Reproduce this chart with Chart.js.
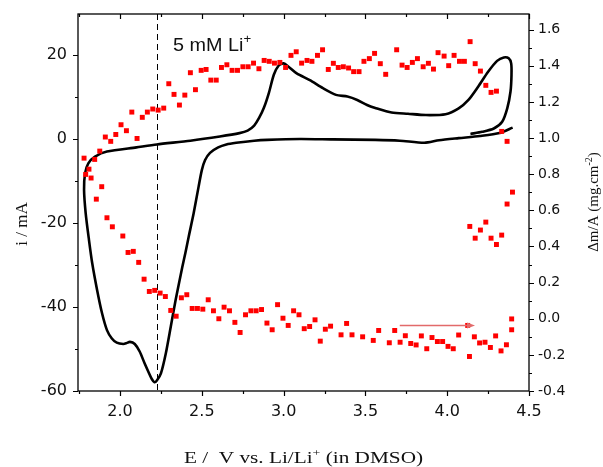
<!DOCTYPE html>
<html>
<head>
<meta charset="utf-8">
<script src="https://cdn.jsdelivr.net/npm/chart.js@4"></script>
<style>
  html, body { margin: 0; padding: 0; background: #fff; }
  #wrap { width: 603px; height: 467px; }
</style>
</head>
<body>
<div id="wrap"><canvas id="cvChart" width="603" height="467"></canvas></div>
<script>
// ── DATA ──
// CV loop, in scan order: cathodic sweep from 4.4 V, back anodic, ending near 4.14 V
const cvPotential = [
  4.40, 4.32, 4.20, 4.07, 3.95, 3.86, 3.71, 3.56, 3.30, 3.10,
  2.90, 2.82, 2.71, 2.65, 2.60, 2.55, 2.52, 2.50, 2.48, 2.45,
  2.42, 2.40, 2.38, 2.34, 2.31, 2.28, 2.25, 2.225, 2.21, 2.195,
  2.18, 2.15, 2.12, 2.09, 2.06, 2.04, 2.02, 1.98, 1.95, 1.92,
  1.89, 1.86, 1.83, 1.81, 1.79, 1.78, 1.786, 1.806, 1.847, 1.92,
  2.10, 2.225, 2.43, 2.61, 2.73, 2.78, 2.82, 2.85, 2.88, 2.91,
  2.94, 2.97, 3.00, 3.03, 3.08, 3.16, 3.24, 3.32, 3.39,
  3.45, 3.51, 3.56, 3.66, 3.76, 3.87, 3.99, 4.07, 4.13, 4.19,
  4.25, 4.305, 4.346, 4.376, 4.391, 4.393, 4.387, 4.367, 4.336, 4.285,
  4.214, 4.142
];
const cvCurrent = [
  2.7, 1.4, 0.7, 0.2, -0.3, -0.9, -0.4, -0.2, -0.1, 0.0,
  -0.2, -0.4, -0.9, -1.3, -2.0, -3.3, -5.0, -7.4, -11.4, -17.7,
  -23.2, -27.0, -30.6, -38.3, -44.7, -51.0, -55.8, -57.5, -57.9, -57.2,
  -56.0, -53.4, -50.6, -48.8, -48.3, -48.6, -48.8, -48.5, -47.5, -45.5,
  -41.5, -36.0, -29.6, -24.0, -17.7, -12.1, -8.2, -5.8, -4.2, -3.0,
  -2.0, -1.3, -0.4, 0.6, 1.4, 2.0, 3.2, 5.0, 7.5, 11.0,
  15.3, 17.5, 18.0, 17.2, 15.6, 14.0, 12.1, 10.5, 10.1,
  9.3, 8.1, 7.4, 6.3, 6.0, 5.7, 5.9, 7.3, 9.3, 12.5,
  16.0, 18.6, 19.4, 19.2, 18.0, 15.2, 11.3, 7.3, 4.1, 2.5,
  1.7, 1.2
];

// EQCM mass change per area (mg.cm-2) against potential
const massPotential = [
  1.780, 1.845, 1.876, 1.910, 1.943, 1.974, 2.006, 2.039, 2.072, 2.104,
  2.136, 2.167, 2.200, 2.233, 2.267, 2.298, 2.330, 2.363, 2.396, 2.430,
  2.461, 2.496, 2.526, 2.555, 2.588, 2.620, 2.653, 2.685, 2.718, 2.751,
  2.783, 2.816, 2.849, 2.881, 2.912, 2.944, 2.977, 3.012, 3.045, 3.077,
  3.110, 3.143, 3.173, 3.207, 3.238, 3.273, 3.304, 3.334, 3.365, 3.397,
  3.428, 3.461, 3.491, 3.524, 3.556, 3.591, 3.624, 3.691, 3.724, 3.755,
  3.787, 3.818, 3.853, 3.885, 3.916, 3.944, 3.981, 4.009, 4.042, 4.075,
  4.105, 4.140, 4.171, 4.203, 4.236, 4.268, 4.301, 4.333, 4.366, 4.399,
  4.366,
  4.138, 4.171, 4.203, 4.236, 4.268, 4.301, 4.333,
  1.790, 1.810, 1.823, 1.855, 1.888, 1.920, 1.953, 2.017, 2.049, 2.081,
  2.114, 2.147, 2.179, 2.212, 2.245, 2.277, 2.310, 2.343, 2.375, 2.408,
  2.441, 2.473, 2.506, 2.539, 2.571, 2.604, 2.636, 2.669, 2.702, 2.734,
  2.767, 2.800, 2.832, 2.865, 2.898, 2.930, 2.963, 2.996, 3.028, 3.061,
  3.094, 3.126, 3.159, 3.192, 3.224, 3.255, 3.287, 3.351, 3.385, 3.418,
  3.483, 3.548, 3.581, 3.646, 3.679, 3.712, 3.744, 3.777, 3.810, 3.842,
  3.875, 3.907, 3.940, 3.972, 4.005, 4.037, 4.070, 4.125, 4.136, 4.166,
  4.198, 4.231, 4.264, 4.296, 4.329, 4.362, 4.394, 4.394
];
const massChange = [
  0.889, 0.882, 0.928, 1.006, 0.982, 1.020, 1.074, 1.041, 1.144, 0.998,
  1.115, 1.144, 1.161, 1.155, 1.166, 1.301, 1.242, 1.183, 1.238, 1.362,
  1.268, 1.375, 1.380, 1.321, 1.321, 1.391, 1.406, 1.375, 1.375, 1.395,
  1.395, 1.415, 1.384, 1.430, 1.425, 1.415, 1.419, 1.391, 1.458, 1.478,
  1.415, 1.430, 1.425, 1.458, 1.489, 1.380, 1.414, 1.391, 1.395, 1.388,
  1.368, 1.368, 1.425, 1.440, 1.469, 1.412, 1.353, 1.489, 1.404, 1.391,
  1.419, 1.440, 1.395, 1.414, 1.382, 1.473, 1.454, 1.401, 1.458, 1.425,
  1.425, 1.534, 1.412, 1.371, 1.292, 1.253, 1.260, 1.037, 0.982, 0.701,
  0.635,
  0.511, 0.446, 0.491, 0.535, 0.446, 0.411, 0.463,
  0.799, 0.828, 0.779, 0.662, 0.731, 0.559, 0.509, 0.458, 0.367, 0.373,
  0.312, 0.219, 0.151, 0.157, 0.142, 0.123, 0.046, 0.014, 0.116, 0.133,
  0.057, 0.057, 0.053, 0.105, 0.044, 0.000, 0.064, 0.044, -0.020, -0.076,
  0.022, 0.044, 0.044, 0.051, -0.024, -0.061, 0.078, 0.003, -0.037, 0.044,
  0.022, -0.055, -0.043, -0.006, -0.124, -0.058, -0.041, -0.089, -0.026, -0.089,
  -0.100, -0.120, -0.065, -0.133, -0.065, -0.130, -0.094, -0.137, -0.145, -0.095,
  -0.166, -0.104, -0.126, -0.126, -0.153, -0.166, -0.090, -0.037, -0.209, -0.100,
  -0.134, -0.130, -0.159, -0.095, -0.178, -0.144, -0.061, -0.001
];

// dashed marker for the Li+ addition, and the scan-direction arrow
const liMarkerPotential = 2.225;
const arrowPotential = [3.71, 4.17];
const arrowMass = -0.037;

// axis ticks
const potentialTicks = [2.0, 2.5, 3.0, 3.5, 4.0, 4.5];
const currentTicks = [-60, -40, -20, 0, 20];
const massTicks = [-0.4, -0.2, 0.0, 0.2, 0.4, 0.6, 0.8, 1.0, 1.2, 1.4, 1.6];

const SANS = '"Liberation Sans", Arial, sans-serif';
const TICK_FONT = '"DejaVu Sans", sans-serif';
const SERIF = '"Liberation Serif", "Times New Roman", serif';

// draw a run of text pieces (some raised as superscripts), stretched sideways by sx
function drawRich(ctx, parts, x, y, size, family, align, sx) {
  const supSize = Math.round(size * 0.65);
  let total = 0;
  parts.forEach(p => {
    ctx.font = (p.sup ? supSize : size) + 'px ' + family;
    p.w = ctx.measureText(p.t).width;
    total += p.w;
  });
  ctx.save();
  ctx.translate(x, y);
  ctx.scale(sx || 1, 1);
  let cx = align === 'center' ? -total / 2 : 0;
  ctx.textBaseline = 'alphabetic';
  ctx.textAlign = 'left';
  parts.forEach(p => {
    ctx.font = (p.sup ? supSize : size) + 'px ' + family;
    ctx.fillText(p.t, cx, p.sup ? -size * 0.42 : 0);
    cx += p.w;
  });
  ctx.restore();
}

// ── FRAME, TICK MARKS AND ANNOTATIONS ──
const decorPlugin = {
  id: 'decor',
  beforeDatasetsDraw(chart) {
    const { ctx, chartArea: a, scales } = chart;
    const px = Math.round(scales.x.getPixelForValue(liMarkerPotential)) + 0.5;
    ctx.save();
    ctx.strokeStyle = '#000';
    ctx.lineWidth = 1;
    ctx.setLineDash([6, 4]);
    ctx.beginPath();
    ctx.moveTo(px, a.top);
    ctx.lineTo(px, a.bottom);
    ctx.stroke();
    ctx.restore();
  },
  afterDatasetsDraw(chart) {
    const { ctx, scales } = chart;
    const x1 = scales.x.getPixelForValue(arrowPotential[0]);
    const x2 = scales.x.getPixelForValue(arrowPotential[1]);
    const y = scales.y2.getPixelForValue(arrowMass);
    ctx.save();
    ctx.strokeStyle = '#e26a6a';
    ctx.fillStyle = '#e26a6a';
    ctx.lineWidth = 1.6;
    ctx.beginPath();
    ctx.moveTo(x1, y);
    ctx.lineTo(x2 - 6, y);
    ctx.stroke();
    ctx.beginPath();
    ctx.moveTo(x2, y);
    ctx.lineTo(x2 - 8, y - 3);
    ctx.lineTo(x2 - 8, y + 3);
    ctx.closePath();
    ctx.fill();
    ctx.restore();
  },
  afterDraw(chart) {
    const { ctx, chartArea: a, scales } = chart;
    ctx.save();
    ctx.strokeStyle = '#000';
    ctx.lineWidth = 1.3;
    ctx.strokeRect(a.left, a.top, a.right - a.left, a.bottom - a.top);

    ctx.lineWidth = 1.2;
    ctx.beginPath();
    // potential ticks every 0.25 V: outside at the bottom, inside at the top
    for (let k = 7; k <= 18; k++) {
      const p = Math.round(scales.x.getPixelForValue(k * 0.25)) + 0.5;
      const len = k % 2 === 0 ? 5 : 3;
      ctx.moveTo(p, a.bottom); ctx.lineTo(p, a.bottom + len);
      ctx.moveTo(p, a.top); ctx.lineTo(p, a.top + len);
    }
    // current ticks every 10 mA, outside on the left
    for (let k = -6; k <= 2; k++) {
      const p = Math.round(scales.y.getPixelForValue(k * 10)) + 0.5;
      const len = k % 2 === 0 ? 5 : 3;
      ctx.moveTo(a.left, p); ctx.lineTo(a.left - len, p);
    }
    // mass ticks every 0.1, outside on the right
    for (let k = -4; k <= 16; k++) {
      const p = Math.round(scales.y2.getPixelForValue(k / 10)) + 0.5;
      const len = k % 2 === 0 ? 5 : 3;
      ctx.moveTo(a.right, p); ctx.lineTo(a.right + len, p);
    }
    ctx.stroke();

    // text
    ctx.fillStyle = '#111';
    drawRich(ctx, [{ t: '5 mM Li' }, { t: '+', sup: true }], 173, 51, 18, SANS, 'left', 1.1);
    drawRich(ctx, [{ t: 'E /  V vs. Li/Li' }, { t: '+', sup: true }, { t: ' (in DMSO)' }],
      (a.left + a.right) / 2, 463, 17, SERIF, 'center', 1.25);

    ctx.save();
    ctx.translate(27, 224);
    ctx.rotate(-Math.PI / 2);
    drawRich(ctx, [{ t: 'i / mA' }], 0, 0, 17, SERIF, 'center');
    ctx.restore();

    ctx.save();
    ctx.translate(598, 202);
    ctx.rotate(-Math.PI / 2);
    drawRich(ctx, [{ t: '\u0394m/A (mg.cm' }, { t: '-2', sup: true }, { t: ')' }], 0, 0, 15, SERIF, 'center');
    ctx.restore();
    ctx.restore();
  }
};

function fixedTicks(values) {
  return scale => { scale.ticks = values.map(v => ({ value: v })); };
}

// keep the plot box fixed: no extra room for overhanging tick labels
function fixedWidth(w) {
  return s => { s.width = w; s.paddingTop = 0; s.paddingBottom = 0; };
}

const ctxCv = document.getElementById('cvChart');
new Chart(ctxCv, {
  type: 'scatter',
  data: {
    datasets: [
      {
        label: 'mass',
        data: massPotential.map((v, i) => ({ x: v, y: massChange[i] })),
        yAxisID: 'y2',
        pointStyle: 'rect',
        pointRadius: 3.5,
        pointBorderWidth: 0,
        backgroundColor: '#ff0000',
        borderColor: '#ff0000',
        showLine: false
      },
      {
        label: 'current',
        data: cvPotential.map((v, i) => ({ x: v, y: cvCurrent[i] })),
        yAxisID: 'y',
        showLine: true,
        pointRadius: 0,
        borderColor: '#000',
        borderWidth: 2.6,
        tension: 0.25
      }
    ]
  },
  options: {
    responsive: false,
    animation: false,
    devicePixelRatio: 1,
    layout: { padding: { top: 14, left: 0, right: 0, bottom: 0 } },
    plugins: { legend: { display: false }, tooltip: { enabled: false } },
    scales: {
      x: {
        type: 'linear',
        min: 1.743,
        max: 4.5,
        afterBuildTicks: fixedTicks(potentialTicks),
        afterFit: s => { s.height = 76; s.paddingLeft = 0; s.paddingRight = 0; },
        grid: { display: false, drawTicks: false },
        border: { display: false },
        ticks: {
          padding: 11,
          color: '#111',
          font: { family: TICK_FONT, size: 16 },
          callback: v => v.toFixed(1)
        }
      },
      y: {
        position: 'left',
        min: -60,
        max: 29.76,
        afterBuildTicks: fixedTicks(currentTicks),
        afterFit: fixedWidth(78),
        grid: { display: false, drawTicks: false },
        border: { display: false },
        ticks: {
          padding: 11,
          color: '#111',
          font: { family: TICK_FONT, size: 16 },
          callback: v => String(v)
        }
      },
      y2: {
        position: 'right',
        min: -0.4,
        max: 1.687,
        afterBuildTicks: fixedTicks(massTicks),
        afterFit: fixedWidth(74),
        grid: { display: false, drawTicks: false },
        border: { display: false },
        ticks: {
          padding: 9,
          color: '#111',
          font: { family: TICK_FONT, size: 14 },
          callback: v => v.toFixed(1)
        }
      }
    }
  },
  plugins: [decorPlugin]
});
</script>
</body>
</html>
